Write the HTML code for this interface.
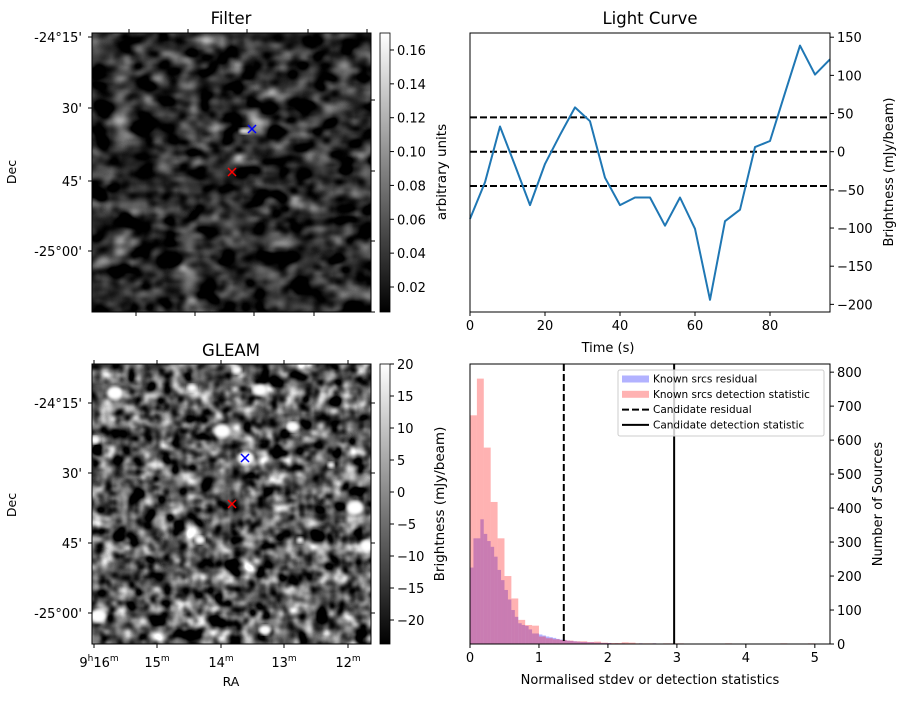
<!DOCTYPE html>
<html><head><meta charset="utf-8">
<style>
html,body{margin:0;padding:0;background:#fff;}
body{width:907px;height:699px;overflow:hidden;font-family:"DejaVu Sans","Liberation Sans",sans-serif;}
svg text{font-family:"DejaVu Sans","Liberation Sans",sans-serif;fill:#000;}
</style></head>
<body>
<svg id="fig" width="907" height="699" viewBox="0 0 907 699" xmlns="http://www.w3.org/2000/svg">
<defs>
  <filter id="fnoise" x="0" y="0" width="100%" height="100%" color-interpolation-filters="sRGB">
    <feTurbulence type="fractalNoise" baseFrequency="0.045 0.06" numOctaves="2" seed="7" result="t"/>
    <feColorMatrix type="matrix" values="0.33 0.33 0.33 0 0  0.33 0.33 0.33 0 0  0.33 0.33 0.33 0 0  0 0 0 0 1"/>
    <feComponentTransfer><feFuncR type="linear" slope="2.3" intercept="-0.98"/><feFuncG type="linear" slope="2.3" intercept="-0.98"/><feFuncB type="linear" slope="2.3" intercept="-0.98"/></feComponentTransfer>
  </filter>
  <filter id="gnoise" x="0" y="0" width="100%" height="100%" color-interpolation-filters="sRGB">
    <feTurbulence type="fractalNoise" baseFrequency="0.07" numOctaves="2" seed="3" result="t"/>
    <feColorMatrix type="matrix" values="0.33 0.33 0.33 0 0  0.33 0.33 0.33 0 0  0.33 0.33 0.33 0 0  0 0 0 0 1"/>
    <feComponentTransfer><feFuncR type="linear" slope="3.2" intercept="-1.25"/><feFuncG type="linear" slope="3.2" intercept="-1.25"/><feFuncB type="linear" slope="3.2" intercept="-1.25"/></feComponentTransfer>
  </filter>
  <filter id="blur1"><feGaussianBlur stdDeviation="1.5"/></filter>
  <linearGradient id="cbar" x1="0" y1="1" x2="0" y2="0"><stop offset="0" stop-color="#000"/><stop offset="1" stop-color="#fff"/></linearGradient>
  <clipPath id="gclip"><rect x="92" y="364" width="279" height="280"/></clipPath>
</defs>

<g>
  <text x="231" y="24" font-size="16.5" text-anchor="middle">Filter</text>
  <rect x="92" y="33" width="279" height="279" fill="#000"/>
  <rect x="92" y="33" width="279" height="279" filter="url(#fnoise)"/>
  <ellipse cx="245" cy="131" rx="6" ry="3" fill="#ddd" filter="url(#blur1)"/>
  <rect x="92" y="33" width="279" height="279" fill="none" stroke="#000"/>
  <g id="fTicks"></g>
  <text x="16" y="172" font-size="12.5" text-anchor="middle" transform="rotate(-90 16 172)">Dec</text>
  <g stroke="#0000ff" stroke-width="1.5"><line x1="248" y1="125" x2="256" y2="133"/><line x1="248" y1="133" x2="256" y2="125"/></g>
  <g stroke="#ff0000" stroke-width="1.5"><line x1="228" y1="168" x2="236" y2="176"/><line x1="228" y1="176" x2="236" y2="168"/></g>
  <rect x="380" y="33" width="10" height="279" fill="url(#cbar)" stroke="#000" stroke-width="0.8"/>
  <g id="fcb"></g>
  <text x="446" y="172" font-size="13.5" text-anchor="middle" transform="rotate(-90 446 172)">arbitrary units</text>
</g>

<g>
  <text x="231" y="356" font-size="16.5" text-anchor="middle">GLEAM</text>
  <rect x="92" y="364" width="279" height="280" fill="#000"/>
  <rect x="92" y="364" width="279" height="280" filter="url(#gnoise)"/>
  <g id="blobs" clip-path="url(#gclip)"></g>
  <rect x="92" y="364" width="279" height="280" fill="none" stroke="#000"/>
  <g id="gTicks"></g>
  <text x="16" y="505" font-size="12.5" text-anchor="middle" transform="rotate(-90 16 505)">Dec</text>
  <text x="231" y="686" font-size="12.5" text-anchor="middle">RA</text>
  <g stroke="#0000ff" stroke-width="1.5"><line x1="241" y1="454" x2="249" y2="462"/><line x1="241" y1="462" x2="249" y2="454"/></g>
  <g stroke="#ff0000" stroke-width="1.5"><line x1="228" y1="500" x2="236" y2="508"/><line x1="228" y1="508" x2="236" y2="500"/></g>
  <rect x="380" y="364" width="10" height="280" fill="url(#cbar)" stroke="#000" stroke-width="0.8"/>
  <g id="gcb"></g>
  <text x="444" y="504" font-size="13.5" text-anchor="middle" transform="rotate(-90 444 504)">Brightness (mJy/beam)</text>
</g>

<g id="lc">
  <text x="650" y="24" font-size="16.5" text-anchor="middle">Light Curve</text>
  <text x="608" y="352" font-size="13" text-anchor="middle">Time (s)</text>
  <text x="893" y="172" font-size="13" text-anchor="middle" transform="rotate(-90 893 172)">Brightness (mJy/beam)</text>
</g>

<g id="hist">
  <text x="650" y="684" font-size="13" text-anchor="middle">Normalised stdev or detection statistics</text>
  <text x="882" y="504" font-size="13" text-anchor="middle" transform="rotate(-90 882 504)">Number of Sources</text>
</g>
</svg>

<script>
// ---- Light curve data ----
const lcTimes = [0,4,8,12,16,20,24,28,32,36,40,44,48,52,56,60,64,68,72,76,80,84,88,92,96];
const lcValues = [-88,-40,33,-18,-70,-16,22,58,40,-34,-70,-60,-60,-97,-60,-101,-194,-91,-76,6,14,77,139,101,121];
const lcRefLines = [45,0,-45];
const lcXTicks = [0,20,40,60,80];
const lcYTicks = [150,100,50,0,-50,-100,-150,-200];

// ---- Histogram data ----
const redBinStart = [0,0.1,0.2,0.3,0.4,0.5,0.6,0.7,0.8,0.9,1.0,1.1,1.2,1.3,1.4,1.5,1.6,1.7,1.8,1.9,2.0,2.1,2.2,2.3,2.4,2.5,2.6,2.8,2.9,3.0,3.7,4.5,4.9];
const redCounts = [673,781,578,418,311,200,134,71,56,54,22,17,14,12,10,8,8,6,7,4,3,3,5,4,2,2,2,2,2,2,2,2,2];
const redWidth = 0.1;
const blueBinStart = [0,0.05,0.1,0.15,0.2,0.25,0.3,0.35,0.4,0.45,0.5,0.55,0.6,0.65,0.7,0.75,0.8,0.85,0.9,0.95,1.0,1.05,1.1,1.15,1.2,1.25,1.3,1.35,1.4,1.45,1.5,1.55,1.6,1.65,1.7,1.75,1.8,1.85,1.9,1.95,2.0,2.1,2.2,2.45,2.65];
const blueCounts = [225,311,311,367,324,303,286,257,218,188,159,131,100,80,61,56,53,43,31,31,28,25,22,20,18,15,13,12,10,9,8,7,6,6,5,5,4,4,3,3,3,2,2,2,2];
const blueWidth = 0.05;
const candResidual = 1.36;
const candDetection = 2.96;
const histXTicks = [0,1,2,3,4,5];
const histYTicks = [0,100,200,300,400,500,600,700,800];

// ---- image axes tick labels ----
const decLabels = ["-24°15'","30'","45'","-25°00'"];
const raLabels = ["16","15","14","13","12"];
const filterCbTicks = [0.02,0.04,0.06,0.08,0.10,0.12,0.14,0.16];
const gleamCbTicks = [20,15,10,5,0,-5,-10,-15,-20];
const blobX = [115,222,260,246,293,355,367,98,192,237,265,95,300,200,331];
const blobY = [393,431,390,458,427,508,546,616,388,370,630,440,540,540,465];
const blobR = [7,7,6,7,5,7,6,7,4,4,5,4,3,4,3];

const NS = "http://www.w3.org/2000/svg";
function mk(tag, attrs, parent){const e=document.createElementNS(NS,tag);for(const k in attrs)e.setAttribute(k,attrs[k]);parent.appendChild(e);return e;}
function txt(x,y,s,size,anchor,parent){const t=mk('text',{x:x,y:y,'font-size':size,'text-anchor':anchor},parent);t.textContent=s;return t;}

(function(){
  const f=document.getElementById('fTicks');
  const fy=[37,108,181,251];
  fy.forEach((y,i)=>{
    const l=mk('line',{x1:88,y1:y,x2:92,y2:y,stroke:'#000'},f);
    
    
    const t=txt(82,y+5,decLabels[i],13,'end',f);
    
    
  });
  [100,171,241,312].forEach(y=>mk('line',{x1:371,y1:y,x2:375,y2:y,stroke:'#000'},f));
  [129,188,247,308,367].forEach(x=>mk('line',{x1:x,y1:29,x2:x,y2:33,stroke:'#000'},f));
  [136,195,254,314].forEach(x=>mk('line',{x1:x,y1:312,x2:x,y2:316,stroke:'#000'},f));

  const g=document.getElementById('gTicks');
  const gy=[403,473,543,613];
  gy.forEach((y,i)=>{
    const l=mk('line',{x1:88,y1:y,x2:92,y2:y,stroke:'#000'},g);
    
    
    mk('line',{x1:371,y1:y,x2:375,y2:y,stroke:'#000'},g);
    const t=txt(82,y+5,decLabels[i],13,'end',g);
    
    
  });
  const gx=[94,157,221,284,348];
  gx.forEach((x,i)=>{
    mk('line',{x1:x,y1:644,x2:x,y2:648,stroke:'#000'},g);
    mk('line',{x1:x,y1:360,x2:x,y2:364,stroke:'#000'},g);
    const t=mk('text',{x:x,y:667,'font-size':13,'text-anchor':'middle'},g);
    
    
    t.innerHTML = raLabels[i]+'<tspan font-size="9" dy="-6">m</tspan>';
    if(i===0){t.innerHTML='<tspan>9</tspan><tspan font-size="9" dy="-6">h</tspan><tspan dy="6">16</tspan><tspan font-size="9" dy="-6">m</tspan>';t.setAttribute('x',x+5);}
  });
  const b=document.getElementById('blobs');
  blobX.forEach((x,i)=>{
    const c=mk('ellipse',{cx:x,cy:blobY[i],rx:blobR[i]*1.2,ry:blobR[i],fill:'#fff',filter:'url(#blur1)'},b);
    
    
  });
  const fc=document.getElementById('fcb');
  filterCbTicks.forEach(v=>{
    const y=287-(v-0.02)/0.01*16.93;
    mk('line',{x1:390,y1:y,x2:394,y2:y,stroke:'#000'},fc);
    const t=txt(397,y+5,v.toFixed(2),13,'start',fc);
    
    
  });
  const gc=document.getElementById('gcb');
  gleamCbTicks.forEach(v=>{
    const y=364+(20-v)*6.4;
    mk('line',{x1:390,y1:y,x2:394,y2:y,stroke:'#000'},gc);
    const t=txt(397,y+5,String(v).replace('-','\u2212'),13,'start',gc);
    
    
  });
})();

(function(){
  const g=document.getElementById('lc');
  const L=470,R=830,T=33,B=312;
  const xMin=0,xMax=96,yMin=-210,yMax=155.5;
  const X=v=>L+(v-xMin)/(xMax-xMin)*(R-L);
  const Y=v=>B-(v-yMin)/(yMax-yMin)*(B-T);
  lcRefLines.forEach(v=>{
    const l=mk('line',{x1:L,x2:R,y1:Y(v),y2:Y(v),stroke:'#000','stroke-width':2,'stroke-dasharray':'7,3'},g);
    
    
  });
  const pts=lcTimes.map((t,i)=>X(t).toFixed(1)+','+Y(lcValues[i]).toFixed(1)).join(' ');
  const pl=mk('polyline',{points:pts,fill:'none',stroke:'#1f77b4','stroke-width':2,'stroke-linejoin':'round'},g);
  
  
  const fr=mk('rect',{x:L,y:T,width:R-L,height:B-T,fill:'none',stroke:'#000','stroke-width':1},g);
  
  
  lcXTicks.forEach(v=>{
    mk('line',{x1:X(v),x2:X(v),y1:B,y2:B+4,stroke:'#000'},g);
    const t=txt(X(v),B+18,String(v),13,'middle',g);
    
    
  });
  lcYTicks.forEach(v=>{
    mk('line',{x1:R,x2:R+4,y1:Y(v),y2:Y(v),stroke:'#000'},g);
    const t=txt(R+7,Y(v)+5,String(v).replace('-','\u2212'),13,'start',g);
    
    
  });
})();

(function(){
  const g=document.getElementById('hist');
  const L=470,R=830,T=364,B=644;
  const xMin=0,xMax=5.22,yMin=0,yMax=824;
  const X=v=>L+(v-xMin)/(xMax-xMin)*(R-L);
  const Y=v=>B-(v-yMin)/(yMax-yMin)*(B-T);
  blueBinStart.forEach((s,i)=>{
    const r=mk('rect',{x:X(s),y:Y(blueCounts[i]),width:X(s+blueWidth)-X(s),height:B-Y(blueCounts[i]),fill:'rgba(0,0,255,0.3)'},g);
    
    
  });
  redBinStart.forEach((s,i)=>{
    const r=mk('rect',{x:X(s),y:Y(redCounts[i]),width:X(s+redWidth)-X(s),height:B-Y(redCounts[i]),fill:'rgba(255,0,0,0.3)'},g);
    
    
  });
  const d=mk('line',{x1:X(candResidual),x2:X(candResidual),y1:T,y2:B,stroke:'#000','stroke-width':2,'stroke-dasharray':'7,3'},g);
  
  
  const s=mk('line',{x1:X(candDetection),x2:X(candDetection),y1:T,y2:B,stroke:'#000','stroke-width':2},g);
  
  
  const fr=mk('rect',{x:L,y:T,width:R-L,height:B-T,fill:'none',stroke:'#000','stroke-width':1},g);
  
  
  histXTicks.forEach(v=>{
    mk('line',{x1:X(v),x2:X(v),y1:B,y2:B+4,stroke:'#000'},g);
    const t=txt(X(v),B+18,String(v),13,'middle',g);
    
    
  });
  histYTicks.forEach(v=>{
    mk('line',{x1:R,x2:R+4,y1:Y(v),y2:Y(v),stroke:'#000'},g);
    const t=txt(R+7,Y(v)+5,String(v),13,'start',g);
    
    
  });
  const lg=mk('g',{},g);
  
  
  mk('rect',{x:618,y:370,width:206,height:66,rx:2,fill:'rgba(255,255,255,0.8)',stroke:'#ccc'},lg);
  const items=[['Known srcs residual','b'],['Known srcs detection statistic','r'],['Candidate residual','d'],['Candidate detection statistic','s']];
  items.forEach((it,i)=>{
    const y=379+i*15.3;
    if(it[1]==='b') mk('rect',{x:622,y:y-3.5,width:27,height:7,fill:'rgba(0,0,255,0.3)'},lg);
    if(it[1]==='r') mk('rect',{x:622,y:y-3.5,width:27,height:7,fill:'rgba(255,0,0,0.3)'},lg);
    if(it[1]==='d') mk('line',{x1:622,x2:649,y1:y,y2:y,stroke:'#000','stroke-width':2,'stroke-dasharray':'7,3'},lg);
    if(it[1]==='s') mk('line',{x1:622,x2:649,y1:y,y2:y,stroke:'#000','stroke-width':2},lg);
    const t=txt(653,y+3.5,it[0],10.5,'start',lg);
    
    
  });
})();
</script>
</body></html>
